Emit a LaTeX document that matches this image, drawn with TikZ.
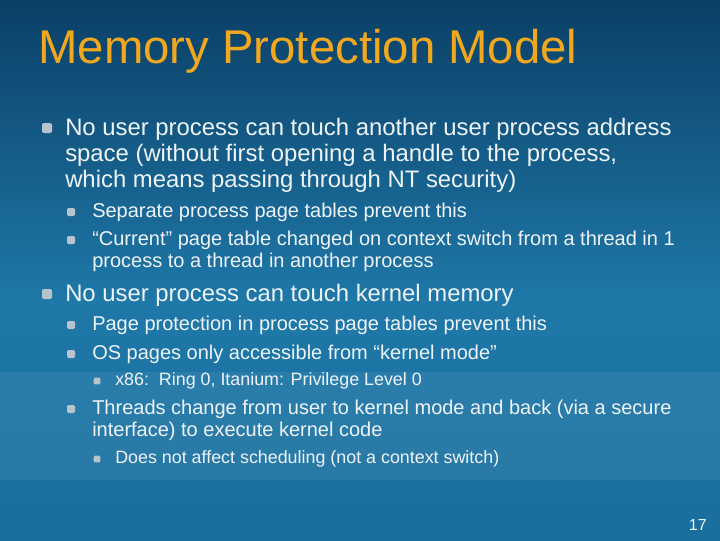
\documentclass[tikz,border=0pt]{standalone}
\usepackage{fontspec}
\setmainfont{Liberation Sans}
\definecolor{bgtop}{HTML}{0B3F66}
\definecolor{bgmid}{HTML}{1E78A8}
\definecolor{bgbot}{HTML}{1A6E9E}
\definecolor{titlec}{HTML}{F2A81E}
\definecolor{txt}{HTML}{EEF3F6}
\definecolor{bul}{HTML}{B8C4CC}
\begin{document}
\begin{tikzpicture}[x=0.75pt,y=-0.75pt,
  lone/.style={anchor=base west,text=txt,font=\fontsize{17.9}{20}\selectfont,inner sep=0pt},
  ltwo/.style={anchor=base west,text=txt,font=\fontsize{15}{17}\selectfont,inner sep=0pt},
  lthree/.style={anchor=base west,text=txt,font=\fontsize{13.4}{15}\selectfont,inner sep=0pt},
  bone/.style={fill=bul,rounded corners=1.5pt,minimum size=7.5pt,inner sep=0pt},
  btwo/.style={fill=bul,rounded corners=1pt,minimum size=6pt,inner sep=0pt},
  bthree/.style={fill=bul,rounded corners=1pt,minimum size=5pt,inner sep=0pt}]
\useasboundingbox (0,0) rectangle (720,540);
\shade[top color=bgtop,bottom color=bgmid] (0,0) rectangle (720,300);
\shade[top color=bgmid,bottom color=bgbot] (0,300) rectangle (720,540);
\fill[white,opacity=0.06] (0,372) rectangle (720,480);
\node[anchor=base west,text=titlec,font=\fontsize{35.5}{40}\selectfont,inner sep=0pt] (title) at (38,63) {Memory Protection Model};
\node[bone] (b1) at (47,128) {};
\node[lone] (t1a) at (65,135) {No user process can touch another user process address};
\node[lone] (t1b) at (65,161) {space (without first opening a handle to the process,};
\node[lone] (t1c) at (65,187) {which means passing through NT security)};
\node[btwo] (b2) at (71,212) {};
\node[ltwo] (t2) at (92,217) {Separate process page tables prevent this};
\node[btwo] (b3) at (71,240) {};
\node[ltwo] (t3a) at (92,245) {“Current” page table changed on context switch from a thread in 1};
\node[ltwo] (t3b) at (92,267) {process to a thread in another process};
\node[bone] (b4) at (47,294) {};
\node[lone] (t4) at (65,301) {No user process can touch kernel memory};
\node[btwo] (b5) at (71,325) {};
\node[ltwo] (t5) at (92,330) {Page protection in process page tables prevent this};
\node[btwo] (b6) at (71,354) {};
\node[ltwo] (t6) at (92,359) {OS pages only accessible from “kernel mode”};
\node[bthree] (b7) at (97,381) {};
\node[lthree] (t7) at (115,385) {x86:\ \ Ring 0, Itanium: Privilege Level 0};
\node[btwo] (b8) at (71,409) {};
\node[ltwo] (t8a) at (92,414) {Threads change from user to kernel mode and back (via a secure};
\node[ltwo] (t8b) at (92,436) {interface) to execute kernel code};
\node[bthree] (b9) at (97,459) {};
\node[lthree] (t9) at (115,463) {Does not affect scheduling (not a context switch)};
\node[anchor=base east,text=txt,font=\fontsize{12}{14}\selectfont,inner sep=0pt] (pg) at (707,530) {17};
\end{tikzpicture}
\end{document}
